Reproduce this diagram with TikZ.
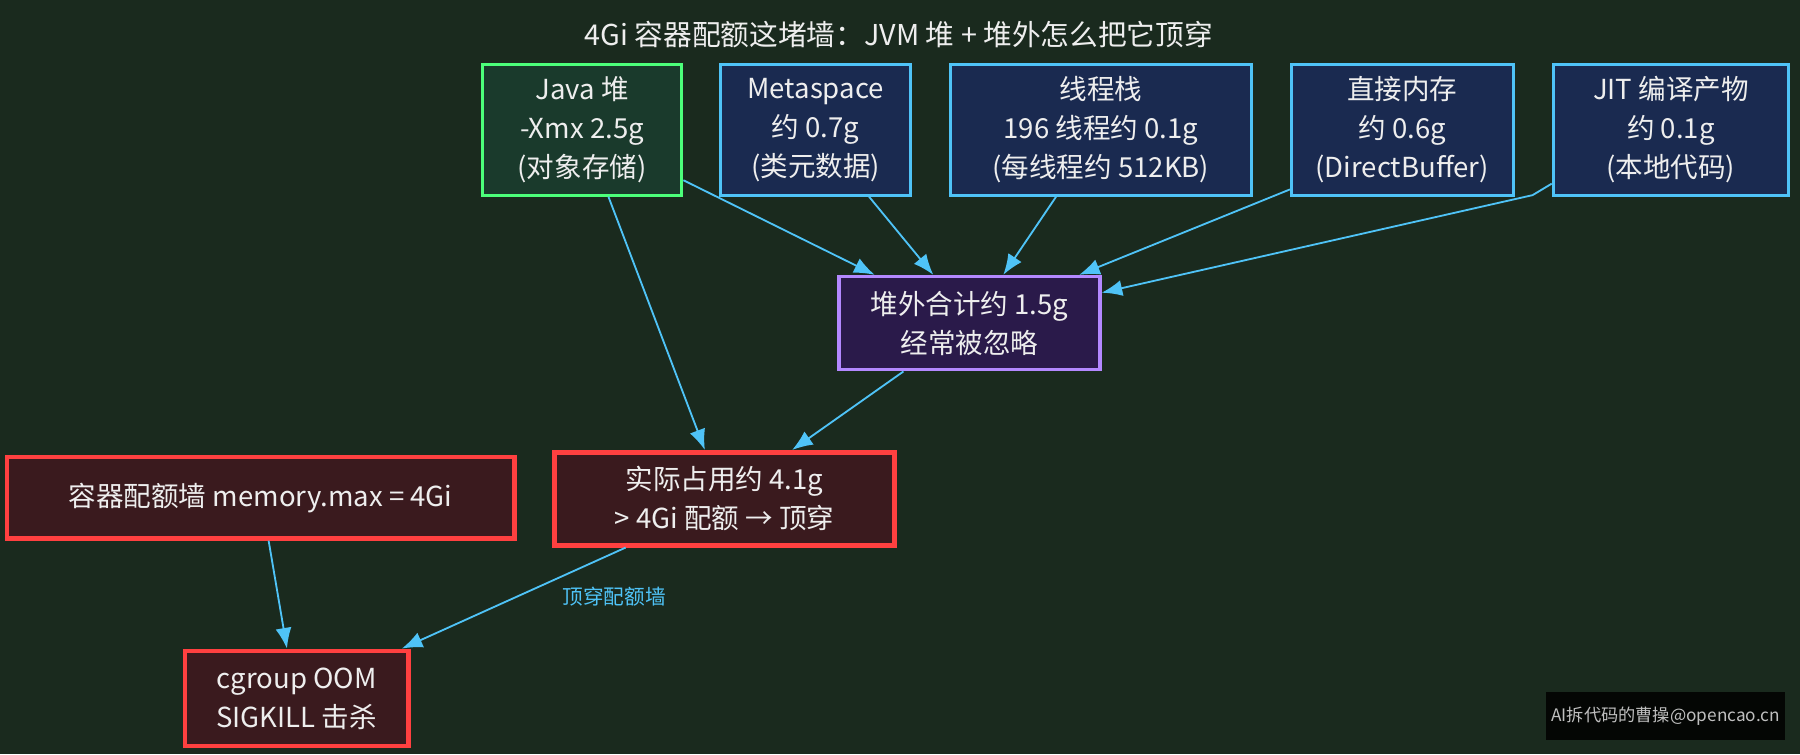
\documentclass[tikz,border=0pt]{standalone}
\usepackage{fontspec}
\setmainfont{Noto Sans CJK SC}
\usetikzlibrary{arrows.meta}
\definecolor{bg}{HTML}{1A2A1E}
\definecolor{eblue}{HTML}{4FC3F7}
\definecolor{gfill}{HTML}{1A3A2C}
\definecolor{gline}{HTML}{4CFF7A}
\definecolor{bfill}{HTML}{1A2A50}
\definecolor{pfill}{HTML}{2A1A4A}
\definecolor{pline}{HTML}{B388FF}
\definecolor{rfill}{HTML}{3A1A1E}
\definecolor{rline}{HTML}{FF4040}
\definecolor{txt}{HTML}{EEEEEE}
\begin{document}
\begin{tikzpicture}[x=0.5pt,y=-0.5pt,
 box/.style={draw, line width=1.3pt, text=txt, align=center, inner sep=0pt, font=\fontsize{12}{17}\selectfont},
 gbox/.style={box, draw=gline, fill=gfill},
 bbox/.style={box, draw=eblue, fill=bfill},
 pbox/.style={box, draw=pline, fill=pfill, line width=1.6pt},
 rbox/.style={box, draw=rline, fill=rfill, line width=2pt},
 arr/.style={draw=eblue, line width=0.8pt, -{Latex[length=9pt,width=7pt]}}]
\fill[bg] (0,0) rectangle (1568,657);
\node[text=txt, font=\fontsize{12.5}{14}\selectfont] (title) at (783,30) {4Gi 容器配额这堵墙：JVM 堆 + 堆外怎么把它顶穿};
\node[gbox, minimum width=87pt, minimum height=57pt] (java) at (507,113) {Java 堆\\-Xmx 2.5g\\(对象存储)};
\node[bbox, minimum width=82.5pt, minimum height=57pt] (meta) at (710.5,113) {Metaspace\\约 0.7g\\(类元数据)};
\node[bbox, minimum width=131pt, minimum height=57pt] (thr) at (959,113) {线程栈\\196 线程约 0.1g\\(每线程约 512KB)};
\node[bbox, minimum width=96.5pt, minimum height=57pt] (dir) at (1221.5,113) {直接内存\\约 0.6g\\(DirectBuffer)};
\node[bbox, minimum width=102.5pt, minimum height=57pt] (jit) at (1455.5,113) {JIT 编译产物\\约 0.1g\\(本地代码)};
\node[pbox, minimum width=113.5pt, minimum height=40.5pt] (off) at (844.5,281.5) {堆外合计约 1.5g\\经常被忽略};
\node[rbox, minimum width=148pt, minimum height=40.5pt] (act) at (631,434.5) {实际占用约 4.1g\\> 4Gi 配额 → 顶穿};
\node[rbox, minimum width=221pt, minimum height=35.5pt] (wall) at (227,433.5) {容器配额墙 memory.max = 4Gi};
\node[rbox, minimum width=97.5pt, minimum height=41.5pt] (oom) at (258.5,608.5) {cgroup OOM\\SIGKILL 击杀};
\node[fill=black!85!bg, text=white!75!black, minimum width=104pt, minimum height=21pt, inner sep=0pt, font=\fontsize{7.5}{9}\selectfont] (wm) at (1451,624) {AI拆代码的曹操@opencao.cn};
\node[text=eblue, font=\fontsize{9}{10}\selectfont] (lbl) at (535,520) {顶穿配额墙};
\coordinate (jb) at (1335,170);
\draw[arr] (java.south -| 530,0) -- (act.north -| 614,0);
\draw[arr] (java.east |- 0,157) -- (off.north -| 762,0);
\draw[arr] (meta.south -| 757,0) -- (off.north -| 813,0);
\draw[arr] (thr.south -| 920,0) -- (off.north -| 874,0);
\draw[arr] (dir.west |- 0,165) -- (off.north -| 940,0);
\draw[arr] (jit.west |- 0,160) -- (jb) -- (off.east |- 0,255);
\draw[arr] (off.south -| 787,0) -- (act.north -| 690,0);
\draw[arr] (act.south -| 545,0) -- (oom.north -| 350,0);
\draw[arr] (wall.south -| 234,0) -- (oom.north -| 250,0);
\end{tikzpicture}
\end{document}
